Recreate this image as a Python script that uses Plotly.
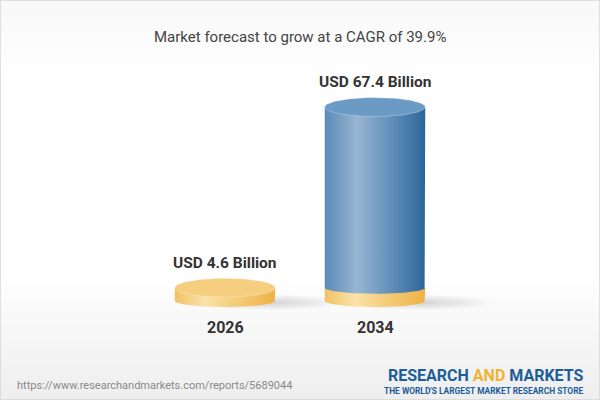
import numpy as np
import plotly.graph_objects as go

# data
years = ["2026", "2034"]
values = [4.6, 67.4]
value_labels = ["USD 4.6 Billion", "USD 67.4 Billion"]
title_text = "Market forecast to grow at a CAGR of 39.9%"
source_text = "https://www.researchandmarkets.com/reports/5689044"

# geometry (data units: x = category index, y = USD billion)
X_RANGE = [-1.5, 2.5]
Y_RANGE = [-34.4, 104.6]
RX = 0.335
RY_TOP = 3.3
RY_BOT = 2.1

BLUE_SIDE = [[0, "#5a8ab6"], [0.32, "#97b6d2"], [0.6, "#6b96bf"], [1, "#2c6699"]]
YEL_SIDE = [[0, "#f1c264"], [0.3, "#fae2aa"], [0.6, "#f4cd7c"], [1, "#eeb244"]]
BLUE_TOP = "#6b9bc5"
YEL_TOP = "#f5cf7f"

t_front = np.linspace(0, np.pi, 60)
t_full = np.linspace(0, 2 * np.pi, 120)


def side(xc, y0, y1, scale, ry):
    # left edge up, straight across top, right edge down, front arc back
    xs = [xc - RX, xc - RX, xc + RX, xc + RX]
    ys = [y0, y1, y1, y0]
    xs += list(xc + RX * np.cos(t_front))
    ys += list(y0 - ry * np.sin(t_front))
    return go.Scatter(x=xs, y=ys, mode="lines", fill="toself", line=dict(width=0),
                      fillgradient=dict(type="horizontal", colorscale=scale),
                      hoverinfo="skip", showlegend=False)


def top(xc, y, color):
    return go.Scatter(x=xc + RX * np.cos(t_full), y=y + RY_TOP * np.sin(t_full),
                      mode="lines", fill="toself", fillcolor=color,
                      line=dict(width=0.8, color="rgba(255,255,255,0.35)"),
                      hoverinfo="skip", showlegend=False)


fig = go.Figure()

# background gradient
fig.add_trace(go.Scatter(
    x=[X_RANGE[0], X_RANGE[1], X_RANGE[1], X_RANGE[0], X_RANGE[0]],
    y=[Y_RANGE[0], Y_RANGE[0], Y_RANGE[1], Y_RANGE[1], Y_RANGE[0]],
    mode="lines", fill="toself", line=dict(width=0),
    fillgradient=dict(type="vertical",
                      colorscale=[[0, "#eeeeee"], [0.25, "#fbfbfb"], [0.3, "#ffffff"],
                                  [0.8, "#ffffff"], [1, "#f8f8f8"]]),
    hoverinfo="skip", showlegend=False))

for i, v in enumerate(values):
    # soft floor shadow
    fig.add_trace(go.Scatter(
        x=i + 0.3 + 0.5 * np.cos(t_full), y=-0.5 + 2.8 * np.sin(t_full),
        mode="lines", fill="toself", line=dict(width=0),
        fillgradient=dict(type="radial",
                          colorscale=[[0, "rgba(0,0,0,0.16)"], [1, "rgba(0,0,0,0)"]]),
        hoverinfo="skip", showlegend=False))

# 2026: single yellow cylinder
fig.add_trace(side(0, 0, values[0], YEL_SIDE, RY_BOT))
fig.add_trace(top(0, values[0], YEL_TOP))

# 2034: yellow base band (2026 level) + blue growth
fig.add_trace(side(1, 0, values[0], YEL_SIDE, RY_BOT))
fig.add_trace(side(1, values[0], values[1], BLUE_SIDE, RY_BOT))
fig.add_trace(top(1, values[1], BLUE_TOP))

for i, (yr, v, lab) in enumerate(zip(years, values, value_labels)):
    fig.add_annotation(x=i, y=v, text=f"<b>{lab}</b>", showarrow=False, yshift=25,
                       yanchor="middle",
                       font=dict(family="Roboto", size=15.5, color="#333333"))
    fig.add_annotation(x=i, y=0, text=f"<b>{yr}</b>", showarrow=False, yshift=-26,
                       yanchor="middle",
                       font=dict(family="Roboto", size=16, color="#333333"))

fig.add_annotation(xref="paper", yref="paper", x=0.5, y=1 - 37 / 400, text=title_text,
                   showarrow=False, yanchor="middle",
                   font=dict(family="Roboto", size=15, color="#444444"))
fig.add_annotation(xref="paper", yref="paper", x=0.025, y=1 - 385 / 400, xanchor="left",
                   yanchor="middle", text=source_text, showarrow=False,
                   font=dict(family="Roboto", size=11, color="#8a8a8a"))
fig.add_annotation(xref="paper", yref="paper", x=0.976, y=1 - 375 / 400, xanchor="right",
                   yanchor="middle",
                   text="<b>RESEARCH <span style='color:#f3b234'>AND</span> MARKETS</b>",
                   showarrow=False, font=dict(family="Roboto", size=16, color="#1d5e9a"))
fig.add_annotation(xref="paper", yref="paper", x=0.976, y=1 - 391 / 400, xanchor="right",
                   yanchor="middle",
                   text="<b>THE WORLD'S LARGEST MARKET RESEARCH STORE</b>",
                   showarrow=False, font=dict(family="Roboto", size=8.4, color="#1d5e9a"))

fig.add_shape(type="rect", xref="paper", yref="paper", x0=0, y0=0, x1=1, y1=1,
              line=dict(color="#d6d6d6", width=1.5))

fig.update_layout(
    width=600, height=400,
    margin=dict(l=0, r=0, t=0, b=0),
    paper_bgcolor="white", plot_bgcolor="white",
    xaxis=dict(range=X_RANGE, visible=False, fixedrange=True),
    yaxis=dict(range=Y_RANGE, visible=False, fixedrange=True),
    showlegend=False,
)

fig.write_html("out.html", config={"displayModeBar": False},
               post_script="document.body.style.margin='0';document.body.style.overflow='hidden';")
